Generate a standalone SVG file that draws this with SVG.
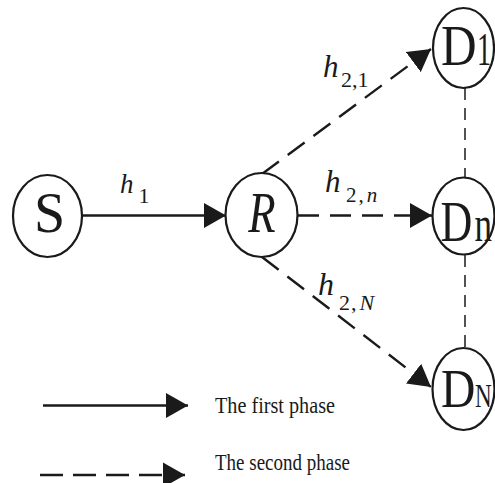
<svg xmlns="http://www.w3.org/2000/svg" width="495" height="483" viewBox="0 0 495 483">
<style>
.node{fill:#fff;stroke:#1a1a1a;stroke-width:2.2}
.lbl{font-family:'Liberation Serif','Times New Roman',serif;fill:#1a1a1a}
.it{font-style:italic}
.solid{stroke:#1a1a1a;stroke-width:2.4;fill:none}
.dash{stroke:#1a1a1a;stroke-width:2.4;fill:none;stroke-dasharray:21 11}
.vdash{stroke:#1a1a1a;stroke-width:1.5;fill:none;stroke-dasharray:12 8}
</style>
<defs>
<marker id="arr" markerUnits="userSpaceOnUse" markerWidth="22" markerHeight="26" refX="22" refY="12.5" orient="auto" viewBox="0 0 22 25">
<path d="M0,0 L22,12.5 L0,25 z" fill="#1a1a1a"/>
</marker>
</defs>
<rect width="495" height="483" fill="#fff"/>
<g id="connectors">
<line class="solid" x1="82" y1="215.5" x2="226" y2="215.5" marker-end="url(#arr)"/>
<line class="dash" x1="298" y1="215.5" x2="432" y2="215.5" marker-end="url(#arr)"/>
<line class="dash" x1="262" y1="174" x2="431" y2="49" marker-end="url(#arr)"/>
<line class="dash" x1="262" y1="257" x2="431" y2="387" marker-end="url(#arr)"/>
<line class="vdash" x1="465" y1="88" x2="465" y2="178"/>
<line class="vdash" x1="465" y1="255" x2="465" y2="348"/>
</g>
<g id="edge-labels" class="lbl">
<text class="it" x="120" y="193" font-size="27">h</text>
<text x="138.5" y="203" font-size="22">1</text>
<text class="it" x="323" y="77" font-size="31">h</text>
<text x="341" y="87" font-size="22">2,1</text>
<text class="it" x="325" y="192" font-size="31">h</text>
<text x="346" y="202" font-size="21">2<tspan dx="2">,</tspan><tspan class="it" dx="3">n</tspan></text>
<text class="it" x="318" y="295" font-size="32">h</text>
<text x="339" y="310" font-size="22">2<tspan dx="1">,</tspan><tspan class="it" dx="3">N</tspan></text>
</g>
<g id="S">
<ellipse class="node" cx="47.5" cy="216" rx="34.5" ry="41"/>
<text class="lbl" text-anchor="middle" x="49.5" y="232" font-size="56">S</text>
</g>
<g id="R">
<ellipse class="node" cx="261.5" cy="215" rx="36" ry="42"/>
<text class="lbl it" text-anchor="middle" font-size="56" transform="translate(262,232) scale(0.8,1)">R</text>
</g>
<g id="D1">
<ellipse class="node" cx="463.5" cy="48" rx="30.5" ry="40"/>
<text class="lbl" font-size="56" transform="translate(441,65) scale(0.88,1)">D</text>
<text class="lbl" font-size="47" transform="translate(477,65) scale(0.6,1)">1</text>
</g>
<g id="Dn">
<ellipse class="node" cx="463.5" cy="216" rx="31" ry="38.5"/>
<text class="lbl" font-size="58" transform="translate(440.5,241) scale(0.76,1)">D</text>
<text class="lbl" font-size="50" transform="translate(474.5,241) scale(0.7,1)">n</text>
</g>
<g id="DN">
<ellipse class="node" cx="463.5" cy="389" rx="31" ry="41"/>
<text class="lbl" font-size="56" transform="translate(441,407) scale(0.85,1)">D</text>
<text class="lbl" font-size="33" transform="translate(475,407) scale(0.7,1)">N</text>
</g>
<g id="legend">
<line class="solid" x1="43" y1="405.5" x2="188" y2="405.5" marker-end="url(#arr)"/>
<text class="lbl" x="215" y="413" font-size="24" textLength="120" lengthAdjust="spacingAndGlyphs">The first phase</text>
<line class="solid" x1="40" y1="475" x2="185" y2="475" stroke-dasharray="23 10" marker-end="url(#arr)"/>
<text class="lbl" x="215" y="470" font-size="24" textLength="135" lengthAdjust="spacingAndGlyphs">The second phase</text>
</g>
</svg>
